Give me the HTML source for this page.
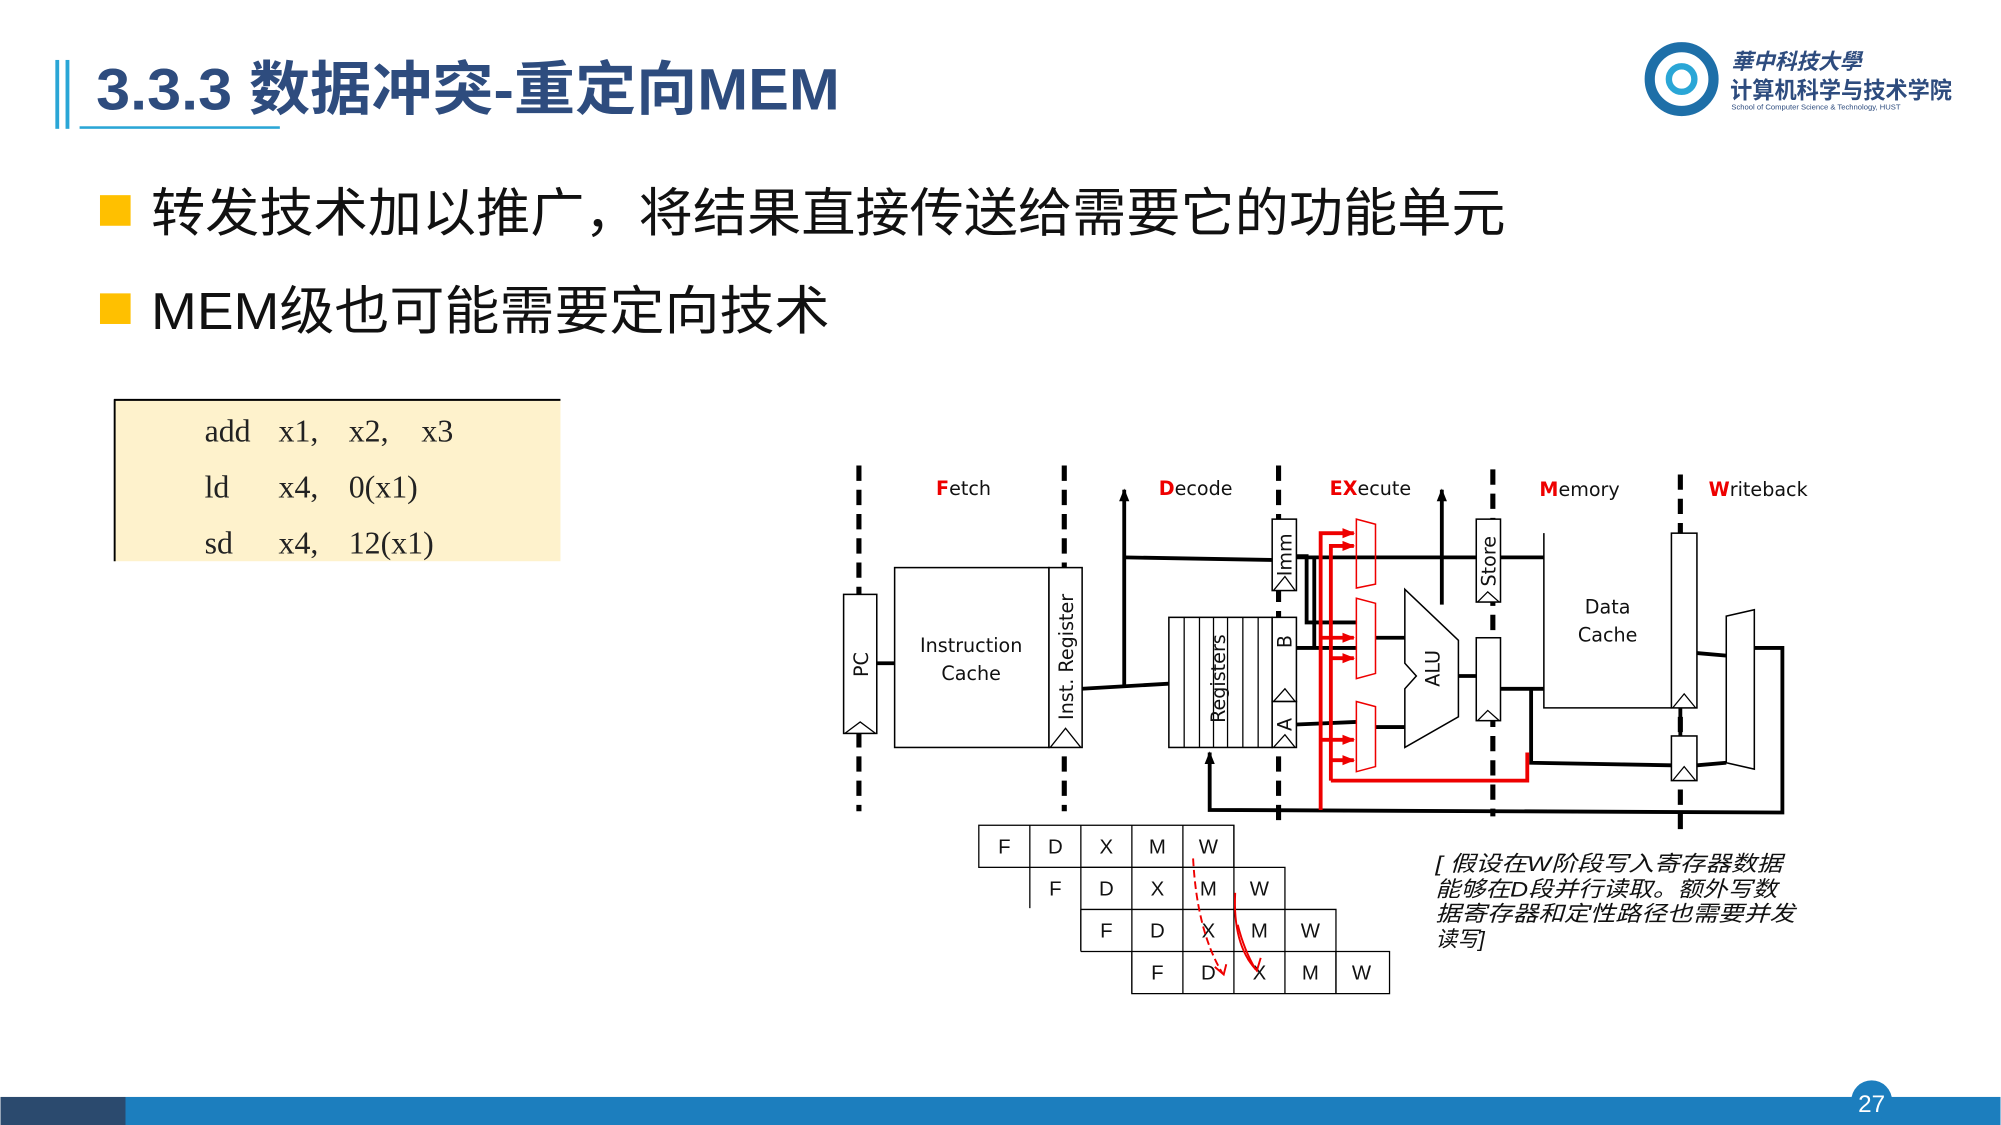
<!DOCTYPE html>
<html><head><meta charset="utf-8"><style>
html,body{margin:0;padding:0;background:#fff;width:2001px;height:1125px;overflow:hidden}
svg{display:block}
.cn{font-family:"Liberation Sans","Noto Sans CJK SC",sans-serif}
</style></head><body>
<svg width="2001" height="1125" viewBox="0 0 1568 882" xmlns="http://www.w3.org/2000/svg">
<defs>
<marker id="ab" markerWidth="10" markerHeight="10" refX="9" refY="4" orient="auto" markerUnits="userSpaceOnUse"><path d="M0,0 L10,4 L0,8 z" fill="#000"/></marker>
<marker id="ar" markerWidth="10" markerHeight="8" refX="9" refY="4" orient="auto" markerUnits="userSpaceOnUse"><path d="M0,0 L10,4 L0,8 z" fill="#e00"/></marker>
</defs>
<!-- header -->
<rect x="43" y="47" width="3" height="54" fill="#2AA6D6"/>
<rect x="51" y="47" width="3" height="54" fill="#2AA6D6"/>
<rect x="62" y="99" width="157" height="2" fill="#2AA6D6"/>
<text x="75" y="86" class="cn" font-size="46" font-weight="bold" fill="#2E4C7E" textLength="583" lengthAdjust="spacingAndGlyphs">3.3.3 数据冲突-重定向MEM</text>
<!-- logo -->
<circle cx="1318" cy="62" r="25" fill="none" stroke="#1E6FA8" stroke-width="8"/>
<circle cx="1318" cy="62" r="10" fill="#fff" stroke="#2AA6D6" stroke-width="5"/>
<text x="1357" y="54" class="cn" font-size="17" font-weight="bold" font-style="italic" fill="#2E4C7E">華中科技大學</text>
<text x="1356" y="77" class="cn" font-size="18" font-weight="bold" fill="#2E4C7E" textLength="174" lengthAdjust="spacingAndGlyphs">计算机科学与技术学院</text>
<text x="1357" y="86" font-family="Liberation Sans" font-size="6" fill="#2E4C7E">School of Computer Science &amp; Technology, HUST</text>
<!-- bullets -->
<rect x="78" y="153" width="24" height="24" fill="#FFC000"/>
<text x="118" y="181" class="cn" font-size="41" fill="#111" textLength="1062" lengthAdjust="spacingAndGlyphs">转发技术加以推广，将结果直接传送给需要它的功能单元</text>
<rect x="78" y="230" width="24" height="24" fill="#FFC000"/>
<text x="118" y="258" class="cn" font-size="41" fill="#111" textLength="532" lengthAdjust="spacingAndGlyphs">MEM级也可能需要定向技术</text>
<!-- code box -->
<rect x="89" y="313" width="350" height="127" fill="#FEF2CC"/>
<line x1="89" y1="313.5" x2="439" y2="313.5" stroke="#000" stroke-width="1.5"/>
<line x1="89.5" y1="313" x2="89.5" y2="440" stroke="#000" stroke-width="1.5"/>
<g font-family="Liberation Serif, serif" font-size="25" fill="#222">
<text x="160" y="346">add</text><text x="218" y="346">x1,</text><text x="273" y="346">x2,</text><text x="330" y="346">x3</text>
<text x="160" y="390">ld</text><text x="218" y="390">x4,</text><text x="273" y="390">0(x1)</text>
<text x="160" y="434">sd</text><text x="218" y="434">x4,</text><text x="273" y="434">12(x1)</text>
</g>
<!-- diagram dashed lines -->
<g stroke="#000" stroke-width="4" stroke-dasharray="12,7">
<line x1="673" y1="365" x2="673" y2="636"/>
<line x1="834" y1="365" x2="834" y2="636"/>
<line x1="1002" y1="365" x2="1002" y2="646"/>
<line x1="1170" y1="368" x2="1170" y2="640"/>
<line x1="1317" y1="372" x2="1317" y2="650"/>
</g>
<g font-family="DejaVu Sans, sans-serif" font-size="15" fill="#111" text-anchor="middle">
<text x="755" y="388"><tspan fill="#e00" font-weight="bold">F</tspan>etch</text>
<text x="937" y="388"><tspan fill="#e00" font-weight="bold">D</tspan>ecode</text>
<text x="1074" y="388"><tspan fill="#e00" font-weight="bold">EX</tspan>ecute</text>
<text x="1238" y="389"><tspan fill="#e00" font-weight="bold">M</tspan>emory</text>
<text x="1378" y="389"><tspan fill="#e00" font-weight="bold">W</tspan>riteback</text>
</g>
<!-- black wires -->
<g stroke="#000" stroke-width="3" fill="none">
<line x1="687" y1="520" x2="701" y2="520"/>
<polyline points="848,540 916,536"/>
<line x1="881" y1="538" x2="881" y2="384" marker-end="url(#ab)"/>
<line x1="881" y1="437" x2="997" y2="439"/>
<polyline points="1016,437 1200,437 1210,437"/>
<polyline points="1016,436 1024,436 1024,488 1063,488"/>
<polyline points="1016,508 1063,508"/>
<polyline points="1030,508 1030,437"/>
<line x1="1016" y1="568" x2="1063" y2="566"/>
<line x1="1078" y1="500" x2="1101" y2="500"/>
<line x1="1078" y1="570" x2="1101" y2="570"/>
<line x1="1130" y1="474" x2="1130" y2="384" marker-end="url(#ab)"/>
<line x1="1143" y1="530" x2="1157" y2="530"/>
<polyline points="1176,540 1210,540"/>
<polyline points="1200,540 1200,598 1310,600"/>
<line x1="1330" y1="512" x2="1353" y2="514"/>
<line x1="1330" y1="600" x2="1353" y2="598"/>
<polyline points="1375,508 1397,508 1397,637 948,635 948,590" marker-end="url(#ab)"/>
<line x1="1317" y1="555" x2="1317" y2="577"/>
</g>
<!-- boxes -->
<g stroke="#000" stroke-width="1.2" fill="#fff">
<rect x="661" y="466" width="26" height="109"/>
<rect x="701" y="445" width="121" height="141"/>
<rect x="822" y="445" width="26" height="141"/>
<rect x="916" y="484" width="81" height="102"/>
<rect x="997" y="407" width="19" height="56"/>
<rect x="997" y="484" width="19" height="66"/>
<rect x="997" y="550" width="19" height="36"/>
<rect x="1157" y="407" width="19" height="65"/>
<rect x="1157" y="500" width="19" height="65"/>
<polyline points="1210,418 1210,555 1310,555" fill="none"/>
<rect x="1310" y="418" width="20" height="137"/>
<rect x="1310" y="577" width="20" height="35"/>
<polygon points="1353,483 1375,478 1375,603 1353,598"/>
<polygon points="1101,462 1143,502 1143,562 1101,586 1101,540 1110,530 1101,520"/>
</g>
<g stroke="#000" stroke-width="1" fill="none">
<line x1="928" y1="484" x2="928" y2="586"/><line x1="940" y1="484" x2="940" y2="586"/>
<line x1="951" y1="484" x2="951" y2="586"/><line x1="962" y1="484" x2="962" y2="586"/>
<line x1="974" y1="484" x2="974" y2="586"/><line x1="986" y1="484" x2="986" y2="586"/>
<polyline points="662,575 674,566 686,575"/>
<polyline points="823,586 835,571 847,586"/>
<polyline points="998,463 1007,452 1015,463"/>
<polyline points="998,550 1007,540 1015,550"/>
<polyline points="998,586 1007,576 1015,586"/>
<polyline points="1158,472 1166,464 1175,472"/>
<polyline points="1158,565 1166,557 1175,565"/>
<polyline points="1311,555 1320,544 1329,555"/>
<polyline points="1311,612 1320,601 1329,612"/>
</g>
<g font-family="DejaVu Sans, sans-serif" font-size="15" fill="#111" text-anchor="middle">
<text x="761" y="511">Instruction</text><text x="761" y="533">Cache</text>
<text x="1260" y="481">Data</text><text x="1260" y="503">Cache</text>
<text transform="translate(680,521) rotate(-90)">PC</text>
<text transform="translate(841,515) rotate(-90)">Inst. Register</text>
<text transform="translate(960,532) rotate(-90)">Registers</text>
<text transform="translate(1012,435) rotate(-90)">Imm</text>
<text transform="translate(1012,503) rotate(-90)">B</text>
<text transform="translate(1012,568) rotate(-90)">A</text>
<text transform="translate(1128,524) rotate(-90)">ALU</text>
<text transform="translate(1172,440) rotate(-90)">Store</text>
</g>
<!-- red forwarding -->
<g stroke="#e00" fill="none" stroke-width="1.2">
<polygon points="1063,407 1078,411 1078,458 1063,461"/>
<polygon points="1063,469 1078,473 1078,528 1063,532"/>
<polygon points="1063,550 1078,554 1078,601 1063,605"/>
</g>
<g stroke="#e00" fill="none" stroke-width="3">
<polyline points="1035,635 1035,418 1061,418" marker-end="url(#ar)"/>
<polyline points="1043,612 1043,428 1061,428" marker-end="url(#ar)"/>
<line x1="1035" y1="500" x2="1061" y2="500" marker-end="url(#ar)"/>
<line x1="1043" y1="516" x2="1061" y2="516" marker-end="url(#ar)"/>
<line x1="1035" y1="580" x2="1061" y2="580" marker-end="url(#ar)"/>
<line x1="1043" y1="596" x2="1061" y2="596" marker-end="url(#ar)"/>
<polyline points="1043,612 1197,612 1197,590"/>
</g>
<!-- pipeline table -->
<g stroke="#000" stroke-width="1" fill="none">
<rect x="767" y="647" width="200" height="33"/>
<line x1="807" y1="647" x2="807" y2="712"/><line x1="847" y1="647" x2="847" y2="745"/>
<line x1="887" y1="647" x2="887" y2="779"/><line x1="927" y1="647" x2="927" y2="779"/>
<line x1="967" y1="647" x2="967" y2="779"/>
<polyline points="847,680 1007,680 1007,779"/>
<polyline points="847,713 1047,713 1047,779"/>
<polyline points="847,746 887,746"/>
<polyline points="887,746 887,779 1089,779 1089,746 887,746"/>
<line x1="847" y1="713" x2="847" y2="746"/>
<line x1="1047" y1="746" x2="1047" y2="779"/>
</g>
<g font-family="Liberation Sans, sans-serif" font-size="16" fill="#111" text-anchor="middle">
<text x="787" y="669">F</text><text x="827" y="669">D</text><text x="867" y="669">X</text><text x="907" y="669">M</text><text x="947" y="669">W</text>
<text x="827" y="702">F</text><text x="867" y="702">D</text><text x="907" y="702">X</text><text x="947" y="702">M</text><text x="987" y="702">W</text>
<text x="867" y="735">F</text><text x="907" y="735">D</text><text x="947" y="735">X</text><text x="987" y="735">M</text><text x="1027" y="735">W</text>
<text x="907" y="768">F</text><text x="947" y="768">D</text><text x="987" y="768">X</text><text x="1027" y="768">M</text><text x="1067" y="768">W</text>
</g>
<g stroke="#e00" stroke-width="1.5" fill="none">
<path d="M935,673 Q938,730 958,763" stroke-dasharray="6,3"/>
<path d="M968,700 Q966,740 984,760"/>
<path d="M970,725 Q975,745 984,760"/>
<polyline points="978,752 985,761 988,751"/>
<polyline points="952,758 959,764 961,756"/>
</g>
<g class="cn" font-size="17" font-style="italic" fill="#111">
<text x="1125" y="683" textLength="272" lengthAdjust="spacingAndGlyphs">[ 假设在W阶段写入寄存器数据</text>
<text x="1125" y="703" textLength="268" lengthAdjust="spacingAndGlyphs">能够在D段并行读取。额外写数</text>
<text x="1125" y="722" textLength="282" lengthAdjust="spacingAndGlyphs">据寄存器和定性路径也需要并发</text>
<text x="1125" y="742">读写]</text>
</g>
<!-- footer -->
<rect x="0" y="860" width="98" height="22" fill="#2B4A6E"/>
<rect x="98" y="860" width="1470" height="22" fill="#1C7EBE"/>
<circle cx="1467" cy="863" r="16" fill="#1C7EBE"/>
<text x="1467" y="872" text-anchor="middle" font-family="Liberation Sans" font-size="19" fill="#fff">27</text>
</svg>
</body></html>
